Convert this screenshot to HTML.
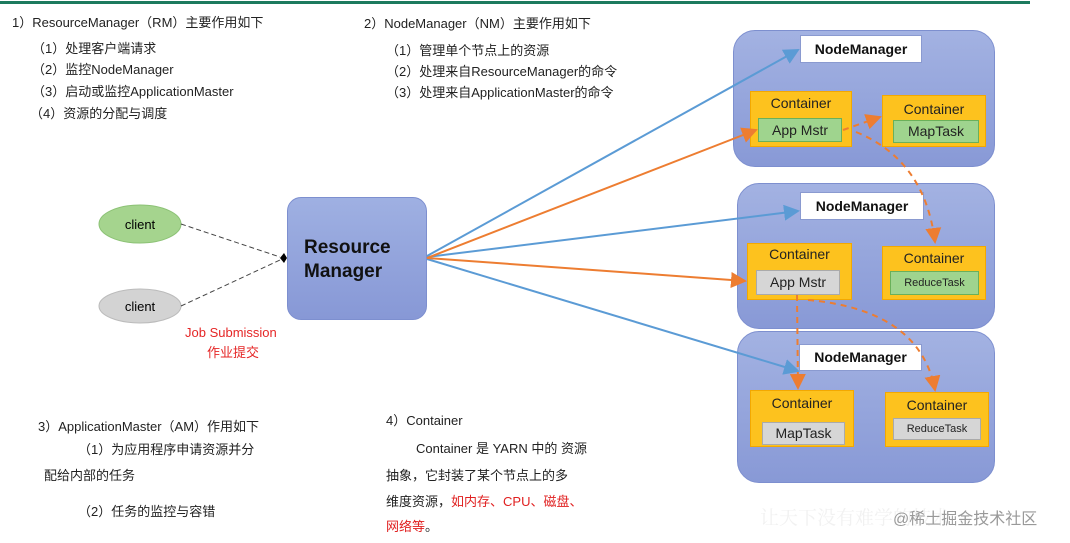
<!DOCTYPE html>
<html><head><meta charset="utf-8"><style>
body{margin:0;width:1070px;height:543px;background:#fff;position:relative;overflow:hidden;font-family:"Liberation Sans","Noto Sans CJK SC",sans-serif;}
.t{position:absolute;font-size:13px;color:#222;white-space:nowrap;}
.nm{position:absolute;background:linear-gradient(#a3b2e2,#8899d6);border:1px solid #7d8fcf;border-radius:22px;}
.lbl{position:absolute;background:#fff;border:1px solid #8a9ad0;font-weight:bold;font-size:14px;text-align:center;color:#111;}
.ct{position:absolute;background:#fdc21e;border:1px solid #f3a800;font-size:14px;color:#222;text-align:center;line-height:18px;box-sizing:border-box;}
.tk{position:absolute;font-size:14px;text-align:center;color:#222;}
.g{background:#9fd48e;border:1px solid #6ab05a;}
.gr{background:#d6d6d6;border:1px solid #aaa;}
</style></head><body>
<div style="position:absolute;left:0;top:1px;width:1030px;height:3px;background:#1c7a5e"></div>
<div class="t" style="left:12px;top:12px">1）ResourceManager（RM）主要作用如下</div>
<div class="t" style="left:32px;top:38px">（1）处理客户端请求</div>
<div class="t" style="left:32px;top:59px">（2）监控NodeManager</div>
<div class="t" style="left:32px;top:81px">（3）启动或监控ApplicationMaster</div>
<div class="t" style="left:30px;top:103px">（4）资源的分配与调度</div>
<div class="t" style="left:364px;top:13px">2）NodeManager（NM）主要作用如下</div>
<div class="t" style="left:386px;top:40px">（1）管理单个节点上的资源</div>
<div class="t" style="left:386px;top:61px">（2）处理来自ResourceManager的命令</div>
<div class="t" style="left:386px;top:82px">（3）处理来自ApplicationMaster的命令</div>
<div class="t" style="left:38px;top:416px">3）ApplicationMaster（AM）作用如下</div>
<div class="t" style="left:78px;top:439px">（1）为应用程序申请资源并分</div>
<div class="t" style="left:44px;top:465px">配给内部的任务</div>
<div class="t" style="left:78px;top:501px">（2）任务的监控与容错</div>
<div class="t" style="left:386px;top:410px">4）Container</div>
<div class="t" style="left:416px;top:438px">Container 是 YARN 中的 资源</div>
<div class="t" style="left:386px;top:465px">抽象，它封装了某个节点上的多</div>
<div class="t" style="left:386px;top:491px">维度资源，<span style="color:#e02020">如内存、CPU、磁盘、</span></div>
<div class="t" style="left:386px;top:516px;color:#e02020">网络等<span style="color:#222">。</span></div>
<div class="t" style="left:185px;top:325px;color:#e52626">Job Submission</div>
<div class="t" style="left:207px;top:342px;color:#e52626">作业提交</div>
<div class="t" style="left:760px;top:503px;font-size:19px;color:#f1f1f1;font-family:'Noto Serif CJK SC',serif">让天下没有难学的技术</div>
<div class="t" style="left:893px;top:505px;font-size:16px;color:#999">@稀土掘金技术社区</div>

<div style="position:absolute;left:287px;top:197px;width:138px;height:121px;background:linear-gradient(#9fb0e2,#8798d6);border:1px solid #7d8fcf;border-radius:14px"></div>
<div class="t" style="left:304px;top:236px;font-size:19px;font-weight:bold;line-height:24px;color:#111">Resource<br>Manager</div>

<div class="nm" style="left:733px;top:30px;width:260px;height:135px"></div>
<div class="nm" style="left:737px;top:183px;width:256px;height:144px"></div>
<div class="nm" style="left:737px;top:331px;width:256px;height:150px"></div>
<div class="lbl" style="left:800px;top:35px;width:120px;height:26px;line-height:26px">NodeManager</div>
<div class="lbl" style="left:800px;top:192px;width:122px;height:26px;line-height:26px">NodeManager</div>
<div class="lbl" style="left:799px;top:344px;width:121px;height:25px;line-height:25px">NodeManager</div>

<div class="ct" style="left:750px;top:91px;width:102px;height:56px;padding-top:2px">Container</div>
<div class="tk g" style="left:758px;top:118px;width:82px;height:22px;line-height:22px">App Mstr</div>
<div class="ct" style="left:882px;top:95px;width:104px;height:52px;padding-top:4px">Container</div>
<div class="tk g" style="left:893px;top:120px;width:84px;height:21px;line-height:21px">MapTask</div>
<div class="ct" style="left:747px;top:243px;width:105px;height:57px;padding-top:1px">Container</div>
<div class="tk gr" style="left:756px;top:270px;width:82px;height:23px;line-height:23px">App Mstr</div>
<div class="ct" style="left:882px;top:246px;width:104px;height:54px;padding-top:2px">Container</div>
<div class="tk g" style="left:890px;top:271px;width:87px;height:22px;line-height:22px;font-size:11px">ReduceTask</div>
<div class="ct" style="left:750px;top:390px;width:104px;height:57px;padding-top:3px">Container</div>
<div class="tk gr" style="left:762px;top:422px;width:81px;height:21px;line-height:21px">MapTask</div>
<div class="ct" style="left:885px;top:392px;width:104px;height:55px;padding-top:3px">Container</div>
<div class="tk gr" style="left:893px;top:418px;width:86px;height:20px;line-height:20px;font-size:11px">ReduceTask</div>

<svg width="1070" height="543" style="position:absolute;left:0;top:0">
<defs>
<marker id="b" markerWidth="8" markerHeight="8" refX="7" refY="4" orient="auto"><path d="M0,0L8,4L0,8z" fill="#5b9bd5"/></marker>
<marker id="o" markerWidth="8" markerHeight="8" refX="7" refY="4" orient="auto"><path d="M0,0L8,4L0,8z" fill="#ed7d31"/></marker>
</defs>
<ellipse cx="140" cy="224" rx="41" ry="19" fill="#a5d48e" stroke="#8cc275"/>
<text x="140" y="229" text-anchor="middle" font-size="13" font-family="Liberation Sans">client</text>
<ellipse cx="140" cy="306" rx="41" ry="17" fill="#d3d3d3" stroke="#bbb"/>
<text x="140" y="311" text-anchor="middle" font-size="13" font-family="Liberation Sans">client</text>
<g stroke="#444" stroke-dasharray="5,3" fill="none"><line x1="181" y1="224" x2="280" y2="257"/><line x1="181" y1="306" x2="280" y2="260"/></g>
<path d="M280,258L284,253L287,258L284,263z" fill="#000"/>
<g stroke="#5b9bd5" stroke-width="2" fill="none" marker-end="url(#b)">
<line x1="427" y1="256" x2="798" y2="50"/><line x1="427" y1="257" x2="798" y2="211"/><line x1="427" y1="259" x2="798" y2="371"/></g>
<g stroke="#ed7d31" stroke-width="2" fill="none" marker-end="url(#o)">
<line x1="427" y1="258" x2="756" y2="130"/><line x1="427" y1="258" x2="745" y2="281"/></g>
<g stroke="#ed7d31" stroke-width="2" fill="none" stroke-dasharray="6,5" marker-end="url(#o)">
<path d="M843,130L880,117"/>
<path d="M856,132Q925,160 935,242"/>
<path d="M797,295L798,388"/>
<path d="M808,300Q920,310 935,390"/>
</g>
</svg>
</body></html>
